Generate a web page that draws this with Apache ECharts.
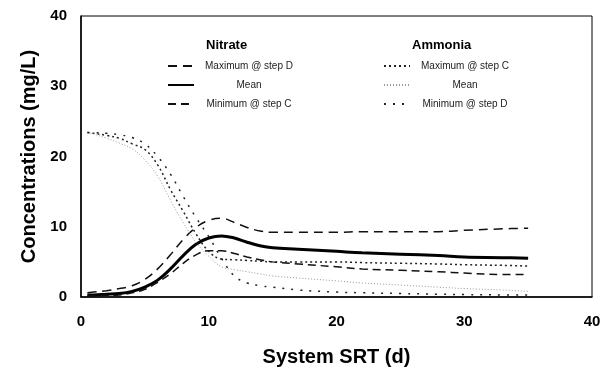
<!DOCTYPE html>
<html>
<head>
<meta charset="utf-8">
<script src="https://cdn.jsdelivr.net/npm/echarts@6/dist/echarts.min.js"></script>
<style>
  html, body { margin: 0; padding: 0; background: #fff; }
  #chart { width: 615px; height: 373px; }
</style>
</head>
<body>
<div id="chart"></div>
<script>
// system SRT (d)
const srt = [0.5, 1, 2, 3, 4, 5, 6, 7, 8, 9, 10, 11, 12, 13, 14, 15, 17, 20, 22, 25, 28, 30, 33, 35]

// nitrate (mg/L)
const nitrateMax = [0.6, 0.7, 0.9, 1.2, 1.6, 2.5, 4.0, 6.0, 8.2, 9.9, 10.9, 11.2, 10.6, 9.9, 9.4, 9.2, 9.2, 9.2, 9.3, 9.3, 9.3, 9.5, 9.7, 9.8]
const nitrateMean = [0.3, 0.3, 0.4, 0.5, 0.8, 1.4, 2.4, 4.0, 5.9, 7.5, 8.4, 8.7, 8.4, 7.8, 7.3, 7.0, 6.8, 6.5, 6.3, 6.1, 5.9, 5.7, 5.6, 5.5]
const nitrateMin = [0.2, 0.2, 0.2, 0.3, 0.6, 1.1, 2.1, 3.3, 4.8, 6.0, 6.6, 6.6, 6.2, 5.7, 5.3, 5.0, 4.7, 4.3, 4.0, 3.8, 3.6, 3.4, 3.2, 3.2]

// ammonia (mg/L)
const ammoniaMax = [23.4, 23.3, 23.0, 22.6, 21.8, 21.0, 18.8, 15.3, 12.2, 9.0, 6.5, 5.4, 5.3, 5.2, 5.1, 5.0, 5.0, 5.0, 4.9, 4.8, 4.7, 4.6, 4.5, 4.4]
const ammoniaMean = [23.4, 23.2, 22.6, 21.9, 21.1, 19.5, 17.2, 13.8, 10.6, 7.8, 5.8, 4.3, 3.9, 3.6, 3.3, 3.0, 2.7, 2.3, 2.0, 1.7, 1.4, 1.2, 1.0, 0.8]
const ammoniaMin = [23.4, 23.4, 23.3, 23.1, 22.7, 21.8, 20.0, 17.5, 14.3, 11.3, 8.6, 5.5, 3.0, 2.0, 1.6, 1.4, 1.0, 0.7, 0.6, 0.5, 0.4, 0.35, 0.3, 0.3]

const labels = {
  nMax: 'Maximum @ step D',
  nMean: 'Mean',
  nMin: 'Minimum @ step C',
  aMax: 'Maximum @ step C',
  aMean: 'Mean',
  aMin: 'Minimum @ step D',
}

const font = '"Liberation Sans", Arial, sans-serif'

function pairs(ys) {
  return srt.map((x, i) => [x, ys[i]])
}

function lineSeries(name, ys, color, width, type) {
  return {
    name: name,
    type: 'line',
    data: pairs(ys),
    smooth: 0.4,
    symbol: 'none',
    animation: false,
    lineStyle: { color: color, width: width, type: type },
    itemStyle: { color: color },
  }
}

const legendBase = {
  orient: 'vertical',
  itemWidth: 26,
  itemHeight: 10,
  itemGap: 9,
  selectedMode: false,
  // hide the symbol dot, keep the line sample
  itemStyle: { opacity: 0 },
  formatter: name => '{t|' + labels[name] + '}',
  textStyle: {
    rich: {
      t: { width: 100, align: 'center', fontFamily: font, fontSize: 10, color: '#222' },
    },
  },
}

const option = {
  backgroundColor: '#fff',
  grid: {
    left: 81,
    right: 23,
    top: 16,
    bottom: 76,
    show: true,
    borderColor: '#000',
    borderWidth: 1,
  },
  graphic: [
    {
      type: 'text',
      left: 206,
      top: 39,
      style: { text: 'Nitrate', font: 'bold 13px ' + font, fill: '#000' },
    },
    {
      type: 'text',
      left: 412,
      top: 39,
      style: { text: 'Ammonia', font: 'bold 13px ' + font, fill: '#000' },
    },
  ],
  legend: [
    { ...legendBase, left: 162, top: 56, data: ['nMax', 'nMean', 'nMin'] },
    { ...legendBase, left: 378, top: 56, data: ['aMax', 'aMean', 'aMin'] },
  ],
  xAxis: {
    type: 'value',
    min: 0,
    max: 40,
    interval: 10,
    name: 'System SRT (d)',
    nameLocation: 'middle',
    nameGap: 50,
    nameTextStyle: { fontFamily: font, fontSize: 20, fontWeight: 'bold', color: '#000' },
    axisLine: { show: true, lineStyle: { color: '#000', width: 1.5 } },
    axisTick: { show: false },
    splitLine: { show: false },
    axisLabel: { margin: 17, fontFamily: font, fontSize: 15, fontWeight: 'bold', color: '#000' },
  },
  yAxis: {
    type: 'value',
    min: 0,
    max: 40,
    interval: 10,
    name: 'Concentrations (mg/L)',
    nameLocation: 'middle',
    nameGap: 42,
    nameTextStyle: { fontFamily: font, fontSize: 20, fontWeight: 'bold', color: '#000' },
    axisLine: { show: true, lineStyle: { color: '#000', width: 1.5 } },
    axisTick: { show: false },
    splitLine: { show: false },
    axisLabel: { margin: 14, fontFamily: font, fontSize: 15, fontWeight: 'bold', color: '#000' },
  },
  series: [
    lineSeries('nMax', nitrateMax, '#111', 1.5, [9, 6]),
    lineSeries('nMean', nitrateMean, '#000', 3, 'solid'),
    lineSeries('nMin', nitrateMin, '#111', 1.5, [8, 5]),
    lineSeries('aMax', ammoniaMax, '#222', 1.5, [2, 3]),
    lineSeries('aMean', ammoniaMean, '#999', 1, [1, 2]),
    lineSeries('aMin', ammoniaMin, '#222', 1.5, [2, 7]),
  ],
}

const chart = echarts.init(document.getElementById('chart'))
chart.setOption(option)
</script>
</body>
</html>
